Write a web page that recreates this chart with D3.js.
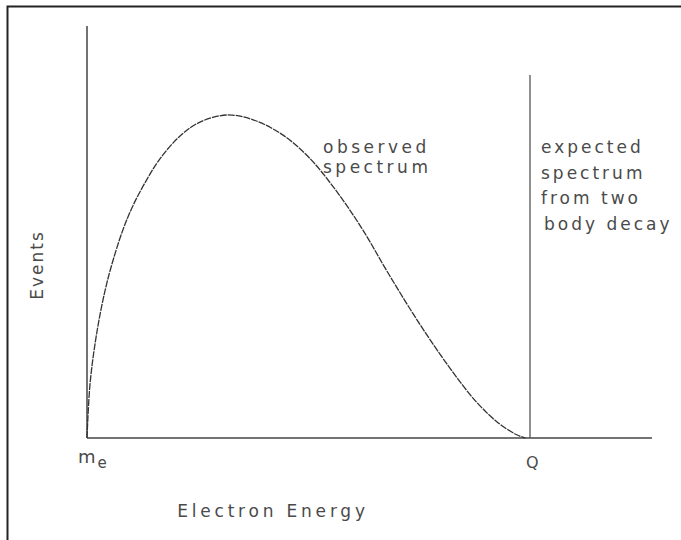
<!DOCTYPE html>
<html lang="en">
  <head>
    <meta charset="UTF-8" />
    <title>Beta decay spectrum</title>
    <script src="https://cdn.jsdelivr.net/npm/d3@7"></script>
    <style>
      body { margin: 0; background: #fff; }
      text { font-family: "DejaVu Sans", sans-serif; fill: #4a4a4a; }
    </style>
  </head>
  <body>
  <script>
    // energy in units of Q (0 = m_e, 1 = Q), events normalised to peak
    var energy = [0, 0.007, 0.022, 0.041, 0.059, 0.081, 0.104, 0.135, 0.165, 0.210, 0.255, 0.316,
                  0.375, 0.44, 0.50, 0.56, 0.62, 0.68, 0.75, 0.82, 0.88, 0.93, 0.97, 0.99];
    var events = [0, 0.17, 0.325, 0.458, 0.551, 0.644, 0.72, 0.80, 0.865, 0.935, 0.978, 1.0,
                  0.985, 0.94, 0.87, 0.77, 0.65, 0.51, 0.355, 0.215, 0.11, 0.045, 0.01, 0];
    var tickValues = [0, 1];
    var tickLabels = ["m", "Q"];
    var observedLabel = ["observed", "spectrum"];
    var expectedLabel = ["expected", "spectrum", "from two", "body decay"];

    var width = 681, height = 540;

    var svg = d3.select("body")
      .append("svg")
      .attr("width", width)
      .attr("height", height);

    // scan frame (only top and left edges show)
    svg.append("path")
      .attr("d", "M7.5,540 V6.5 H681")
      .attr("fill", "none")
      .attr("stroke", "#222")
      .attr("stroke-width", 2);

    var x = d3.scaleLinear().domain([0, 1]).range([87, 530]);
    var y = d3.scaleLinear().domain([0, 1]).range([438, 115]);
    var xEnd = 652, yTop = 26;

    // axes
    svg.append("line")
      .attr("x1", x(0)).attr("x2", x(0))
      .attr("y1", y(0)).attr("y2", yTop)
      .attr("stroke", "#444").attr("stroke-width", 1.5);
    svg.append("line")
      .attr("x1", x(0)).attr("x2", xEnd)
      .attr("y1", y(0)).attr("y2", y(0))
      .attr("stroke", "#444").attr("stroke-width", 1.5);

    // two-body line at Q
    svg.append("line")
      .attr("x1", x(1)).attr("x2", x(1))
      .attr("y1", y(0)).attr("y2", 75)
      .attr("stroke", "#555").attr("stroke-width", 1.3);

    var pts = energy.map(function (e, i) { return [e, events[i]]; });
    var line = d3.line()
      .x(function (d) { return x(d[0]); })
      .y(function (d) { return y(d[1]); })
      .curve(d3.curveCatmullRom.alpha(0.5));

    svg.append("path")
      .datum(pts)
      .attr("d", line)
      .attr("fill", "none")
      .attr("stroke", "#333")
      .attr("stroke-width", 1.3)
      .attr("stroke-dasharray", "7,1");

    // tick labels
    var tl = svg.selectAll(".tick-label")
      .data(tickValues)
      .enter()
      .append("text")
      .attr("class", "tick-label")
      .attr("x", function (d) { return d === 0 ? x(d) - 9 : x(d) - 4; })
      .attr("y", function (d) { return d === 0 ? 463 : 468; })
      .attr("font-size", function (d) { return d === 0 ? 18 : 16; })
      .text(function (d, i) { return tickLabels[i]; });
    tl.filter(function (d) { return d === 0; })
      .append("tspan")
      .attr("dx", 2)
      .attr("dy", 5)
      .attr("font-size", 15)
      .text("e");

    svg.append("text")
      .attr("x", 273).attr("y", 517)
      .attr("text-anchor", "middle")
      .attr("font-size", 17)
      .attr("letter-spacing", 3.8)
      .text("Electron Energy");

    svg.append("text")
      .attr("transform", "translate(43,265) rotate(-90)")
      .attr("text-anchor", "middle")
      .attr("font-size", 17)
      .attr("letter-spacing", 2)
      .text("Events");

    svg.selectAll(".obs")
      .data(observedLabel)
      .enter()
      .append("text")
      .attr("x", 323)
      .attr("y", function (d, i) { return 153 + i * 20; })
      .attr("font-size", 17)
      .attr("letter-spacing", 3.5)
      .text(function (d) { return d; });

    svg.selectAll(".exp")
      .data(expectedLabel)
      .enter()
      .append("text")
      .attr("x", function (d, i) { return i === 3 ? 544 : 541; })
      .attr("y", function (d, i) { return 153 + i * 25.5; })
      .attr("font-size", 17)
      .attr("letter-spacing", 3)
      .text(function (d) { return d; });
  </script>
  </body>
</html>
